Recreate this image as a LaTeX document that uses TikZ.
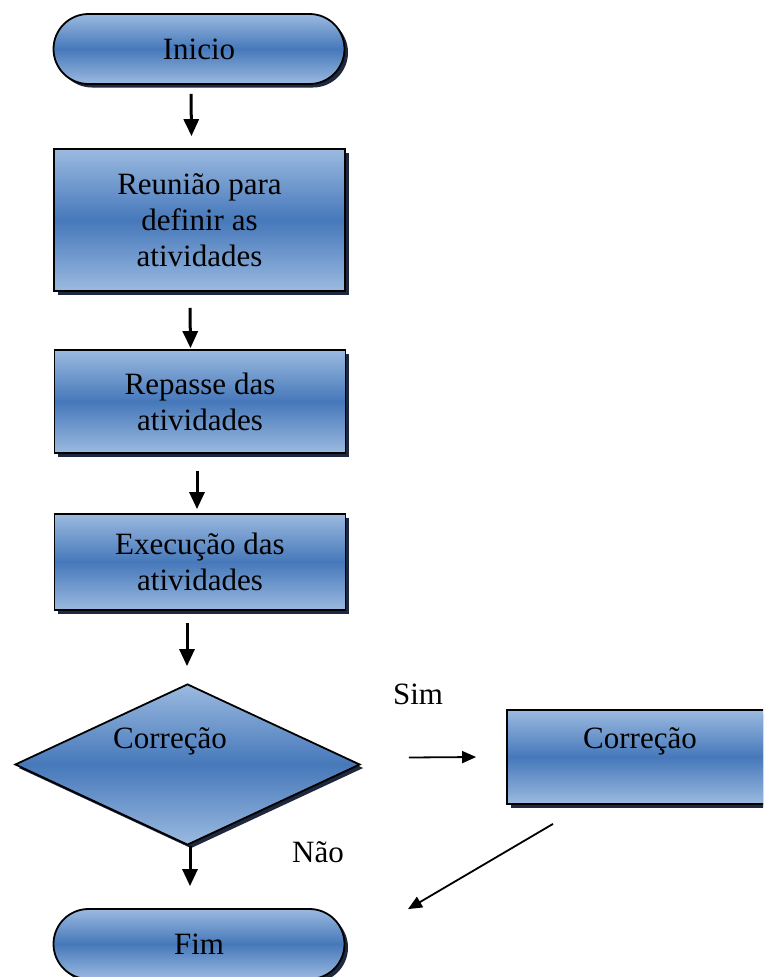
\documentclass[tikz,border=0pt]{standalone}
\usepackage{fontspec}
\setmainfont{Liberation Serif}
\usetikzlibrary{shapes.geometric,shadows,arrows.meta}
\definecolor{lightb}{RGB}{155,186,224}
\definecolor{midb}{RGB}{70,120,186}
\definecolor{shad}{RGB}{30,40,62}
\tikzset{
 fillg/.style={top color=lightb,bottom color=lightb,middle color=midb},
 shd/.style={drop shadow={shadow xshift=3.5pt,shadow yshift=-3.5pt,fill=shad,opacity=1}},
 procbox/.style={draw=black,line width=1.8pt,fillg,shd,minimum width=291pt,inner sep=0pt,align=center,font=\fontsize{31}{36}\selectfont},
 term/.style={procbox,rounded corners=35pt,minimum height=70pt},
 arr/.style={line width=3pt,-{Triangle[width=15pt,length=17pt]}},
 thinarr/.style={line width=1.8pt,-{Triangle[width=12pt,length=14pt]}},
 lbl/.style={font=\fontsize{31}{36}\selectfont,inner sep=0pt}
}
\begin{document}
\begin{tikzpicture}[x=1pt,y=-1pt]
\clip (0,0) rectangle (763,977);
\fill[white] (0,0) rectangle (763,977);
\node[term] (ini) at (199,49) {Inicio};
\node[procbox,minimum height=142pt] (b1) at (199.5,220) {Reunião para\\definir as\\atividades};
\node[procbox,minimum height=103pt] (b2) at (200,401.5) {Repasse das\\atividades};
\node[procbox,minimum height=96pt] (b3) at (200,562) {Execução das\\atividades};
\node[diamond,draw=black,line width=1.8pt,fillg,shd,inner sep=0pt,minimum width=345pt,minimum height=161pt] (dia) at (187.5,764.5) {};
\node[lbl] (diat) at (170,741) {Correção};
\node[procbox,minimum width=268pt,minimum height=94pt] (rb) at (641,757) {};
\node[lbl] (rbt) at (640,741) {Correção};
\node[term] (fim) at (199,944) {Fim};
\node[lbl] (sim) at (418,694) {Sim};
\node[lbl] (nao) at (318,852) {Não};
\draw[arr] ([xshift=-8pt,yshift=-9pt]ini.south) -- ([xshift=-8pt,yshift=12pt]b1.north);
\draw[arr] ([xshift=-9.5pt,yshift=-16pt]b1.south) -- ([xshift=-9.5pt,yshift=1pt]b2.north);
\draw[arr] ([xshift=-3pt,yshift=-17pt]b2.south) -- ([xshift=-3pt,yshift=4pt]b3.north);
\draw[arr] ([xshift=-13pt,yshift=-12pt]b3.south) -- ([xshift=-0.5pt,yshift=17pt]dia.north);
\draw[arr] ([xshift=2.5pt]dia.south) -- ([xshift=-9pt,yshift=22pt]fim.north);
\draw[thinarr] ([xshift=48pt,yshift=7pt]dia.east) -- ([xshift=-30pt]rb.west);
\draw[thinarr] ([xshift=-88pt,yshift=-19pt]rb.south) -- ([xshift=209pt,yshift=-1pt]fim.north);
\end{tikzpicture}
\end{document}
